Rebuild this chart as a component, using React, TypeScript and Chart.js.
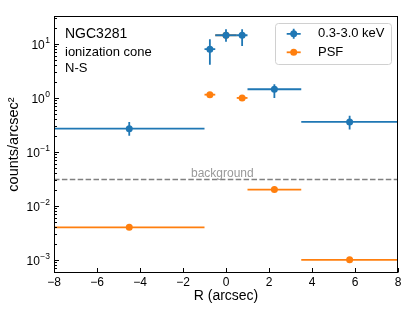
import React, { useEffect, useRef } from 'react';
import { Chart, registerables } from 'chart.js';

Chart.register(...registerables);

const FONT = '"Liberation Sans", Arial, Helvetica, sans-serif';
const BLUE = '#1f77b4';
const ORANGE = '#ff7f0e';

// Radial bins (arcsec)
const binCenters = [-4.5, -0.75, 0, 0.75, 2.25, 5.75];
const binLo = [-8, -1, -0.5, 0.5, 1, 3.5];
const binHi = [-1, -0.5, 0.5, 1, 3.5, 8];

// 0.3-3.0 keV surface brightness (counts/arcsec^2)
const softCounts = [0.27, 8.0, 14.5, 14.5, 1.45, 0.36];
const softErrLo = [0.2, 4.1, 11.0, 9.2, 1.0, 0.26];
const softErrHi = [0.36, 12.2, 18.7, 18.7, 1.8, 0.47];

// PSF profile
const psfCounts = [0.004, 1.15, 14.5, 1.0, 0.02, 0.001];

// background level
const backgroundLevel = 0.031;
const backgroundLabelX = -1.63;

const xTicks = [-8, -6, -4, -2, 0, 2, 4, 6, 8];
const yDecades = [-3, -2, -1, 0, 1];
const yMin = 5.7e-4;
const yMax = 33;

const legendLabels = ['0.3-3.0 keV', 'PSF'];
const annotationLines = ['NGC3281', 'ionization cone', 'N-S'];

const fmtMinus = (v: number) => (v < 0 ? '\u2212' + Math.abs(v) : String(v));

const customPlugin = {
  id: 'customDraw',
  beforeDatasetsDraw(chart: any) {
    const { ctx, chartArea: ca, scales } = chart;
    const x = scales.x;
    const y = scales.y;
    const yb = Math.round(y.getPixelForValue(backgroundLevel)) + 0.5;
    ctx.save();
    ctx.strokeStyle = '#808080';
    ctx.lineWidth = 1.5;
    ctx.setLineDash([5.5, 2.4]);
    ctx.beginPath();
    ctx.moveTo(ca.left, yb);
    ctx.lineTo(ca.right, yb);
    ctx.stroke();
    ctx.setLineDash([]);
    ctx.fillStyle = '#999999';
    ctx.font = `12px ${FONT}`;
    ctx.textAlign = 'left';
    ctx.textBaseline = 'alphabetic';
    ctx.fillText('background', x.getPixelForValue(backgroundLabelX), yb - 2.5);
    ctx.restore();
  },
  beforeDatasetDraw(chart: any, args: any) {
    const { ctx, chartArea: ca, scales } = chart;
    const x = scales.x;
    const y = scales.y;
    ctx.save();
    ctx.beginPath();
    ctx.rect(ca.left, ca.top, ca.right - ca.left, ca.bottom - ca.top);
    ctx.clip();
    ctx.lineWidth = 1.8;
    if (args.index === 0) {
      ctx.strokeStyle = BLUE;
      for (let i = 0; i < binCenters.length; i++) {
        const py = y.getPixelForValue(softCounts[i]);
        const px = x.getPixelForValue(binCenters[i]);
        ctx.beginPath();
        ctx.moveTo(x.getPixelForValue(binLo[i]), py);
        ctx.lineTo(x.getPixelForValue(binHi[i]), py);
        ctx.moveTo(px, y.getPixelForValue(softErrLo[i]));
        ctx.lineTo(px, y.getPixelForValue(softErrHi[i]));
        ctx.stroke();
      }
    } else {
      ctx.strokeStyle = ORANGE;
      for (let i = 0; i < binCenters.length; i++) {
        const py = y.getPixelForValue(psfCounts[i]);
        ctx.beginPath();
        ctx.moveTo(x.getPixelForValue(binLo[i]), py);
        ctx.lineTo(x.getPixelForValue(binHi[i]), py);
        ctx.stroke();
      }
    }
    ctx.restore();
  },
  afterDraw(chart: any) {
    const { ctx, chartArea: ca, scales } = chart;
    const x = scales.x;
    const y = scales.y;
    const L = Math.round(ca.left) + 0.5;
    const R = Math.round(ca.right) - 0.5;
    const T = Math.round(ca.top) + 0.5;
    const B = Math.round(ca.bottom) - 0.5;
    ctx.save();
    // frame
    ctx.strokeStyle = '#000';
    ctx.lineWidth = 1;
    ctx.strokeRect(L, T, R - L, B - T);
    // y ticks (inward)
    ctx.beginPath();
    for (let d = -4; d <= 2; d++) {
      for (let k = 1; k <= 9; k++) {
        const v = k * Math.pow(10, d);
        if (v < yMin || v > yMax) continue;
        const py = Math.round(y.getPixelForValue(v)) + 0.5;
        const len = k === 1 ? 4.5 : 2.5;
        ctx.moveTo(L, py);
        ctx.lineTo(L + len, py);
      }
    }
    // x ticks (inward)
    for (const t of xTicks) {
      const px = Math.round(x.getPixelForValue(t)) + 0.5;
      ctx.moveTo(px, B);
      ctx.lineTo(px, B - 4.5);
    }
    ctx.stroke();
    // y tick labels
    ctx.fillStyle = '#000';
    ctx.textAlign = 'left';
    ctx.textBaseline = 'alphabetic';
    const right = L - 4.5;
    for (const d of yDecades) {
      const py = y.getPixelForValue(Math.pow(10, d));
      const e = fmtMinus(d);
      ctx.font = `8.5px ${FONT}`;
      const ew = ctx.measureText(e).width;
      ctx.font = `12px ${FONT}`;
      const bw = ctx.measureText('10').width;
      ctx.fillText('10', right - ew - bw - 0.5, py + 5);
      ctx.font = `8.5px ${FONT}`;
      ctx.fillText(e, right - ew, py - 0.5);
    }
    // annotations
    ctx.textBaseline = 'middle';
    ctx.font = `14px ${FONT}`;
    ctx.fillText(annotationLines[0], 65, 34);
    ctx.font = `13px ${FONT}`;
    ctx.fillText(annotationLines[1], 65, 52.5);
    ctx.fillText(annotationLines[2], 65, 68.5);
    // legend
    const lx = 275.5, ly = 23.5, lw = 116, lh = 41, r = 3;
    ctx.beginPath();
    ctx.moveTo(lx + r, ly);
    ctx.lineTo(lx + lw - r, ly);
    ctx.arcTo(lx + lw, ly, lx + lw, ly + r, r);
    ctx.lineTo(lx + lw, ly + lh - r);
    ctx.arcTo(lx + lw, ly + lh, lx + lw - r, ly + lh, r);
    ctx.lineTo(lx + r, ly + lh);
    ctx.arcTo(lx, ly + lh, lx, ly + lh - r, r);
    ctx.lineTo(lx, ly + r);
    ctx.arcTo(lx, ly, lx + r, ly, r);
    ctx.closePath();
    ctx.fillStyle = 'rgba(255,255,255,0.8)';
    ctx.fill();
    ctx.strokeStyle = '#d0d0d0';
    ctx.lineWidth = 1;
    ctx.stroke();
    const mx = 293.7;
    const rows = [33.8, 52.3];
    const cols = [BLUE, ORANGE];
    for (let i = 0; i < 2; i++) {
      ctx.strokeStyle = cols[i];
      ctx.fillStyle = cols[i];
      ctx.lineWidth = 1.8;
      ctx.beginPath();
      ctx.moveTo(mx - 7, rows[i]);
      ctx.lineTo(mx + 7, rows[i]);
      if (i === 0) {
        ctx.moveTo(mx, rows[i] - 5);
        ctx.lineTo(mx, rows[i] + 5);
      }
      ctx.stroke();
      ctx.beginPath();
      ctx.arc(mx, rows[i], 3.5, 0, Math.PI * 2);
      ctx.fill();
      ctx.fillStyle = '#000';
      ctx.font = `13px ${FONT}`;
      ctx.textBaseline = 'middle';
      ctx.fillText(legendLabels[i], 318, rows[i]);
    }
    ctx.restore();
  },
};

export default function App() {
  const ref = useRef<HTMLCanvasElement | null>(null);
  useEffect(() => {
    document.body.style.margin = '0';
    const canvas = ref.current;
    if (!canvas) return;
    const chart = new Chart(canvas, {
      type: 'scatter',
      data: {
        datasets: [
          {
            label: legendLabels[0],
            data: binCenters.map((c, i) => ({ x: c, y: softCounts[i] })),
            backgroundColor: BLUE,
            borderColor: BLUE,
            pointRadius: 3.5,
            pointBorderWidth: 0,
            showLine: false,
          },
          {
            label: legendLabels[1],
            data: binCenters.map((c, i) => ({ x: c, y: psfCounts[i] })),
            backgroundColor: ORANGE,
            borderColor: ORANGE,
            pointRadius: 3.5,
            pointBorderWidth: 0,
            showLine: false,
          },
        ],
      },
      options: {
        responsive: false,
        animation: false,
        devicePixelRatio: 1,
        layout: { padding: { left: 0, top: 16, right: 11, bottom: 0 } },
        plugins: { legend: { display: false }, tooltip: { enabled: false } },
        scales: {
          x: {
            type: 'linear',
            min: -8,
            max: 8,
            afterBuildTicks: (s: any) => {
              s.ticks = xTicks.map((v) => ({ value: v }));
            },
            ticks: {
              callback: (v: any) => fmtMinus(Number(v)),
              font: { size: 12, family: FONT },
              color: '#000',
              padding: 2,
              maxRotation: 0,
              autoSkip: false,
            },
            grid: { display: false, drawTicks: false },
            border: { display: false },
            title: {
              display: true,
              text: 'R (arcsec)',
              font: { size: 14, family: FONT },
              color: '#000',
              padding: { top: 0, bottom: 8 },
            },
            afterFit: (s: any) => {
              s.height = 40;
            },
          },
          y: {
            type: 'logarithmic',
            min: yMin,
            max: yMax,
            ticks: { display: false },
            grid: { display: false, drawTicks: false },
            border: { display: false },
            title: {
              display: true,
              text: 'counts/arcsec\u00B2',
              font: { size: 14.5, family: FONT },
              color: '#000',
              padding: { top: 5, bottom: 0 },
            },
            afterFit: (s: any) => {
              s.width = 54;
            },
          },
        },
      },
      plugins: [customPlugin],
    } as any);
    return () => chart.destroy();
  }, []);
  return (
    <div style={{ width: 409, height: 313 }}>
      <canvas ref={ref} width={409} height={313} style={{ display: 'block', width: 409, height: 313 }} />
    </div>
  );
}
